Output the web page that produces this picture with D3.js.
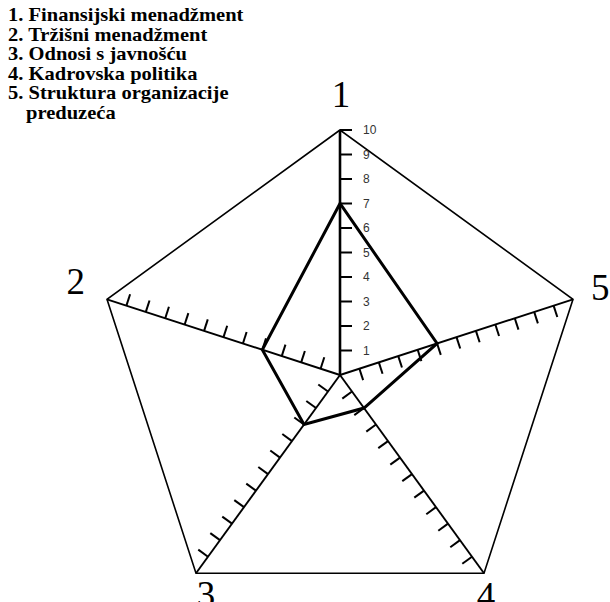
<!DOCTYPE html>
<html>
<head>
<meta charset="utf-8">
<script src="https://cdn.jsdelivr.net/npm/d3@7"></script>
<style>
  html, body { margin: 0; padding: 0; background: #fff; }
</style>
</head>
<body>
<svg id="radar" width="610" height="602"></svg>
<script>
// axes go counter-clockwise from the top: 1 top, 2 upper left, 3 lower left, 4 lower right, 5 upper right
const axisNames = ["1", "2", "3", "4", "5"];
// only axis 1 is divided into 10; the other four carry 12 divisions
const axisMax   = [10, 12, 12, 12, 12];
const scores    = [7, 4, 3, 2, 5];
const tickLabels = [1, 2, 3, 4, 5, 6, 7, 8, 9, 10];
const legendLines = [
    "1. Finansijski menadžment",
    "2. Tržišni menadžment",
    "3. Odnosi s javnošću",
    "4. Kadrovska politika",
    "5. Struktura organizacije",
    "preduzeća"
];

const cx = 340, cy = 375, R = 245;

const svg = d3.select("#radar");
const g = svg.append("g").attr("transform", `translate(${cx},${cy})`);

const angle = d3.scaleLinear().domain([0, axisNames.length]).range([0, -2 * Math.PI]);
const rScales = axisMax.map(m => d3.scaleLinear().domain([0, m]).range([0, R]));

// lineRadial convention: x = r sin a, y = -r cos a
const pt = (i, r) => [r * Math.sin(angle(i)), -r * Math.cos(angle(i))];

// outer pentagon
g.append("path")
    .datum(axisNames.map((_, i) => i))
    .attr("fill", "none").attr("stroke", "#000").attr("stroke-width", 1.6)
    .attr("d", d3.lineRadial().angle(i => angle(i)).radius(R).curve(d3.curveLinearClosed));

// small nudges so the big numbers sit where the original put them
const labelNudge = [[1, -2], [1, -7], [30, -6], [-18, -5], [-5, -1]];

// spokes with their ticks
axisNames.forEach((name, i) => {
    const [ex, ey] = pt(i, R);
    g.append("line")
        .attr("x1", 0).attr("y1", 0).attr("x2", ex).attr("y2", ey)
        .attr("stroke", "#000").attr("stroke-width", i === 0 ? 2.6 : 1.9);

    const a = angle(i);
    const tx = Math.cos(a), ty = Math.sin(a);
    const ticks = i === 0 ? tickLabels : d3.range(1, axisMax[i]);
    const tickLen = 12;
    g.selectAll(null).data(ticks).enter().append("line")
        .attr("x1", d => pt(i, rScales[i](d))[0])
        .attr("y1", d => pt(i, rScales[i](d))[1])
        .attr("x2", d => pt(i, rScales[i](d))[0] + tx * tickLen)
        .attr("y2", d => pt(i, rScales[i](d))[1] + ty * tickLen)
        .attr("stroke", "#000").attr("stroke-width", 2);

    const [lx, ly] = pt(i, R + 34);
    g.append("text")
        .attr("x", lx + labelNudge[i][0]).attr("y", ly + labelNudge[i][1])
        .attr("text-anchor", "middle").attr("dominant-baseline", "central")
        .attr("font-family", "'Liberation Serif', 'Times New Roman', serif")
        .attr("font-size", 37)
        .text(name);
});

// numbers on axis 1
g.selectAll(".tl").data(tickLabels).enter().append("text")
    .attr("class", "tl")
    .attr("x", 23)
    .attr("y", d => -rScales[0](d))
    .attr("dominant-baseline", "central")
    .attr("font-family", "'Liberation Sans', Arial, sans-serif")
    .attr("font-size", 12).attr("fill", "#333")
    .text(d => d);

// scores polygon
g.append("path")
    .datum(scores)
    .attr("fill", "none").attr("stroke", "#000").attr("stroke-width", 3)
    .attr("stroke-linejoin", "miter")
    .attr("d", d3.lineRadial()
        .angle((d, i) => angle(i))
        .radius((d, i) => rScales[i](d))
        .curve(d3.curveLinearClosed));

// legend, top left; the scan's lettering is wide, so stretch it a little
const leg = svg.append("g")
    .attr("font-family", "'Liberation Serif', 'Times New Roman', serif")
    .attr("font-weight", "bold").attr("font-size", 18);
legendLines.forEach((t, i) => {
    const x = i === legendLines.length - 1 ? 26 : 8;
    leg.append("text")
        .attr("transform", `translate(${x},${21 + i * 19.5}) scale(1.14,1)`)
        .text(t);
});
</script>
</body>
</html>
